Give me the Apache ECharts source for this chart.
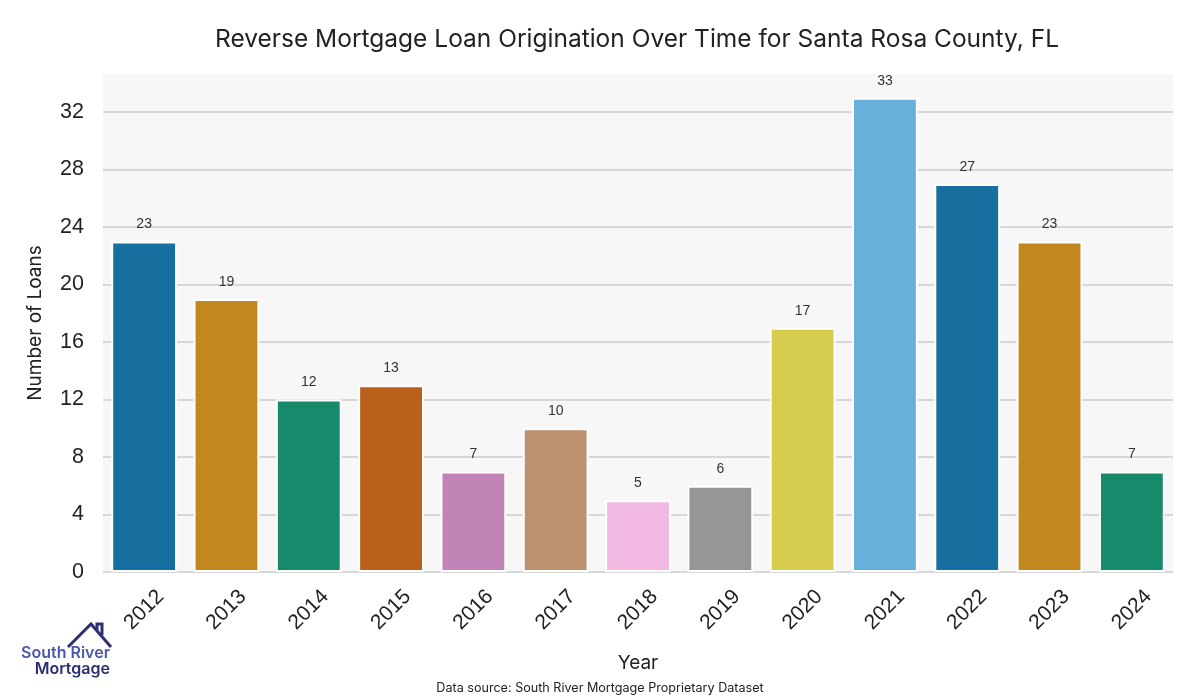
<!DOCTYPE html>
<html><head><meta charset="utf-8">
<script src="https://cdn.jsdelivr.net/npm/echarts@6/dist/echarts.min.js"></script>
<style>html,body{margin:0;padding:0;background:#fff}#c{width:1200px;height:700px}</style>
</head><body><div id="c"></div>
<script>
const years = ['2012','2013','2014','2015','2016','2017','2018','2019','2020','2021','2022','2023','2024'];
const loans = [23,19,12,13,7,10,5,6,17,33,27,23,7];
const barColors = ['#176fa0','#c3871f','#168a6a','#b9601d','#c283b6','#bc9170','#f1b9e1','#969696','#d6cc4d','#67b0da','#176fa0','#c3871f','#168a6a'];
const yTicks = [0,4,8,12,16,20,24,28,32];

const chart = echarts.init(document.getElementById('c'), null, {renderer:'canvas'});
chart.setOption({
  animation:false,
  backgroundColor:'#ffffff',
  title:{text:'Reverse Mortgage Loan Origination Over Time for Santa Rosa County, FL',left:632,top:22,textAlign:'center',
    textStyle:{fontFamily:'Inter',fontWeight:'normal',fontSize:24.5,color:'#222'}},
  grid:{left:103,right:27,top:74,bottom:128,show:true,backgroundColor:'#f7f7f7',borderWidth:0},
  xAxis:{type:'category',data:years,
    name:'Year',nameLocation:'middle',nameGap:82,nameTextStyle:{fontFamily:'Inter',fontSize:19,color:'#222'},
    axisLine:{show:false},axisTick:{show:false},
    axisLabel:{rotate:45,align:'center',verticalAlign:'middle',margin:38,fontFamily:'Liberation Sans',fontSize:21,color:'#222'}},
  yAxis:{type:'value',min:0,max:34.65,interval:4,
    name:'Number of Loans',nameLocation:'middle',nameGap:58,nameTextStyle:{fontFamily:'Inter',fontSize:19,color:'#222'},
    axisLine:{show:false},axisTick:{show:false},
    axisLabel:{fontFamily:'Liberation Sans',fontSize:21.5,color:'#222',margin:19,showMaxLabel:false,
      formatter:v=>yTicks.includes(v)?String(v):''},
    splitLine:{show:true,showMaxLine:false,lineStyle:{color:'#cccccc',width:1.5}}},
  series:[{type:'bar',barWidth:'80%',
    data:loans.map((v,i)=>({value:v,itemStyle:{color:barColors[i]}})),
    itemStyle:{borderColor:'#ffffff',borderWidth:2},
    label:{show:true,position:'top',distance:10,fontFamily:'Liberation Sans',fontSize:14,color:'#333'}}],
  graphic:[
    {type:'polyline',shape:{points:[[68,647],[91,624],[111,647]]},style:{stroke:'#2b3170',lineWidth:3,fill:null}},
    {type:'polyline',shape:{points:[[97,630],[97,624],[102,624],[102,635]]},style:{stroke:'#2b3170',lineWidth:3,fill:null}},
    {type:'text',x:110,y:653,style:{text:'South River',font:'600 16px Inter',fill:'#4a58a8',textAlign:'right',textVerticalAlign:'middle'}},
    {type:'text',x:110,y:669,style:{text:'Mortgage',font:'600 16px Inter',fill:'#283070',textAlign:'right',textVerticalAlign:'middle'}},
    {type:'text',x:600,y:688,style:{text:'Data source: South River Mortgage Proprietary Dataset',font:'12.6px Inter',fill:'#222',textAlign:'center',textVerticalAlign:'middle'}}
  ]
});
</script></body></html>
